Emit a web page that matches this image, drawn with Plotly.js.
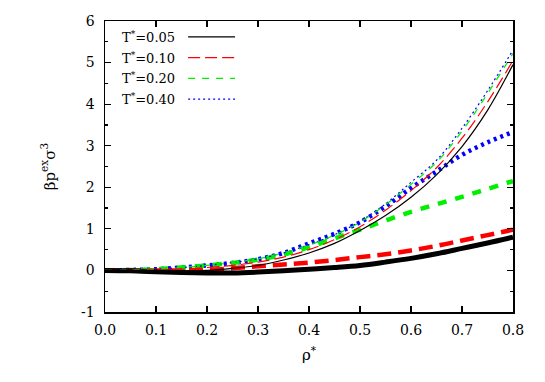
<!DOCTYPE html>
<html>
<head>
<meta charset="utf-8">
<script src="https://cdn.plot.ly/plotly-3.0.1.min.js"></script>
<style>
  html, body { margin: 0; padding: 0; background: #fff; }
  #chart { width: 545px; height: 382px; }
</style>
</head>
<body>
<div id="chart"></div>
<script>
// density grid
var rho = [0, 0.05, 0.1, 0.15, 0.2, 0.25, 0.3, 0.35, 0.4, 0.45, 0.5, 0.55, 0.6, 0.65, 0.7, 0.75, 0.8];

// thin curves
var p005a = [0, 0, 0, -0.02, 0.0, 0.05, 0.12, 0.25, 0.42, 0.65, 0.96, 1.32, 1.76, 2.3, 2.98, 3.85, 4.95];
var p010a = [0, 0, 0.01, 0.03, 0.07, 0.12, 0.2, 0.32, 0.5, 0.74, 1.05, 1.45, 1.92, 2.47, 3.18, 4.05, 5.05];
var p020a = [0, 0.01, 0.03, 0.07, 0.12, 0.19, 0.28, 0.42, 0.61, 0.85, 1.16, 1.58, 2.07, 2.6, 3.35, 4.25, 5.22];
var p040a = [0, 0.01, 0.03, 0.07, 0.12, 0.19, 0.28, 0.42, 0.62, 0.86, 1.18, 1.6, 2.12, 2.65, 3.42, 4.32, 5.3];

// thick curves
var p005b = [0, -0.01, -0.03, -0.05, -0.06, -0.06, -0.04, -0.01, 0.03, 0.07, 0.12, 0.2, 0.29, 0.4, 0.53, 0.66, 0.8];
var p010b = [0, 0, 0, 0, 0.01, 0.05, 0.1, 0.14, 0.19, 0.25, 0.32, 0.39, 0.48, 0.59, 0.72, 0.85, 0.98];
var p020b = [0, 0.01, 0.03, 0.07, 0.12, 0.18, 0.26, 0.38, 0.56, 0.77, 0.98, 1.2, 1.41, 1.59, 1.77, 1.96, 2.15];
var p040b = [0, 0.01, 0.03, 0.07, 0.12, 0.18, 0.27, 0.42, 0.65, 0.88, 1.16, 1.54, 1.98, 2.38, 2.78, 3.08, 3.33];

var labels = ["T<sup>*</sup>=0.05", "T<sup>*</sup>=0.10", "T<sup>*</sup>=0.20", "T<sup>*</sup>=0.40"];
var yTickVals = [-1, 0, 1, 2, 3, 4, 5, 6];
var yTickText = ["-1", "0", "1", "2", "3", "4", "5", "6"];

var colors = ["#000000", "#ff0000", "#00ee00", "#0000ff"];
var dashThin = ["solid", "12px,5px", "7px,7px", "2px,3px"];
var dashThick = ["solid", "14px,7px", "9px,9px", "3px,4px"];

var thin = [p005a, p010a, p020a, p040a];
var thick = [p005b, p010b, p020b, p040b];

var font = "DejaVu Serif";
var traces = [];
for (var i = 3; i >= 0; i--) {
  traces.push({x: rho, y: thick[i], mode: "lines", line: {color: colors[i], width: i == 0 ? 5 : 4.5, dash: dashThick[i], shape: "spline"}, showlegend: false});
}
for (var i = 3; i >= 0; i--) {
  traces.push({x: rho, y: thin[i], mode: "lines", line: {color: colors[i], width: 1.2, dash: dashThin[i], shape: "spline"}, showlegend: false});
}

// key drawn gnuplot-style: text on the left, sample on the right
var shapes = [];
var annotations = [];
for (var i = 0; i < 4; i++) {
  var yy = 6 - 0.38 - i * 0.5;
  annotations.push({x: 0.141, y: yy, xref: "x", yref: "y", text: labels[i], showarrow: false,
    xanchor: "right", yanchor: "middle", font: {family: font, size: 13, color: "#000"}});
  shapes.push({type: "line", xref: "x", yref: "y", x0: 0.163, x1: 0.255, y0: yy, y1: yy,
    line: {color: colors[i], width: 1.2, dash: dashThin[i]}});
}

var axisBase = {
  showline: true, linecolor: "#000", linewidth: 1.5, mirror: "allticks",
  ticks: "inside", tickcolor: "#000", tickwidth: 1.2, ticklen: 6,
  showgrid: false, zeroline: false,
  tickfont: {family: font, size: 14, color: "#000"}
};

var layout = {
  width: 545, height: 382,
  margin: {l: 105, r: 32, t: 21, b: 70},
  paper_bgcolor: "#fff", plot_bgcolor: "#fff",
  showlegend: false,
  xaxis: Object.assign({}, axisBase, {
    range: [0, 0.8], dtick: 0.1, tickformat: ".1f", ticklabelstandoff: 5,
    title: {text: "ρ<sup>*</sup>", font: {family: font, size: 15, color: "#000"}, standoff: 12}
  }),
  yaxis: Object.assign({}, axisBase, {
    range: [-1, 6], tickmode: "array", tickvals: yTickVals, ticktext: yTickText, ticklabelstandoff: 6,
    minor: {dtick: 0.5, ticks: "inside", ticklen: 3, tickcolor: "#000", tickwidth: 1.2, showgrid: false},
    title: {text: "βp<sup>ex</sup>σ<sup>3</sup>", font: {family: font, size: 15, color: "#000"}, standoff: 22}
  }),
  shapes: shapes,
  annotations: annotations
};

Plotly.newPlot("chart", traces, layout, {displayModeBar: false, staticPlot: true});
</script>
</body>
</html>
